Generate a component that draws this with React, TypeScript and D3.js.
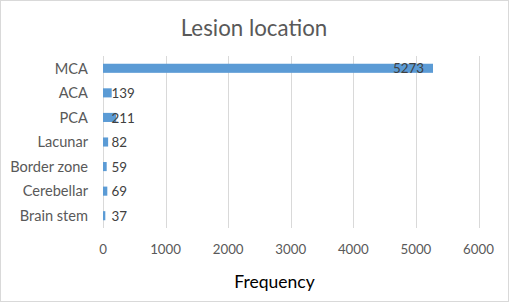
import { useEffect, useRef } from "react";
import * as d3 from "d3";

const categories = ["MCA", "ACA", "PCA", "Lacunar", "Border zone", "Cerebellar", "Brain stem"];
const frequencies = [5273, 139, 211, 82, 59, 69, 37];
const xTicks = [0, 1000, 2000, 3000, 4000, 5000, 6000];

export default function App() {
  const ref = useRef<SVGSVGElement>(null);

  useEffect(() => {
    const width = 510;
    const height = 303;
    const svg = d3.select(ref.current).attr("width", width).attr("height", height);
    svg.selectAll("*").remove();

    const font = "Lato, 'Open Sans', sans-serif";

    svg
      .append("rect")
      .attr("x", 0.5)
      .attr("y", 0.5)
      .attr("width", width - 2)
      .attr("height", height - 2)
      .attr("fill", "#fff")
      .attr("stroke", "#d9d9d9");

    const x = d3.scaleLinear().domain([0, 6000]).range([103, 478.5]);
    const y = d3.scaleBand().domain(categories).range([56, 228]).paddingInner(0.63).paddingOuter(0.315);

    // gridlines
    svg
      .append("g")
      .selectAll("line")
      .data(xTicks)
      .join("line")
      .attr("x1", (d) => Math.round(x(d)) + 0.5)
      .attr("x2", (d) => Math.round(x(d)) + 0.5)
      .attr("y1", 56)
      .attr("y2", 228)
      .attr("stroke", "#d9d9d9");

    // tick labels
    svg
      .append("g")
      .selectAll("text")
      .data(xTicks)
      .join("text")
      .attr("x", (d) => x(d))
      .attr("y", 254)
      .attr("text-anchor", "middle")
      .attr("fill", "#595959")
      .style("font", `13.3px ${font}`)
      .text((d) => d);

    // category labels
    svg
      .append("g")
      .selectAll("text")
      .data(categories)
      .join("text")
      .attr("x", 88)
      .attr("y", (d) => y(d)! + y.bandwidth() / 2)
      .attr("dy", "0.36em")
      .attr("text-anchor", "end")
      .attr("fill", "#595959")
      .style("font", `14.6px ${font}`)
      .text((d) => d);

    // bars
    svg
      .append("g")
      .selectAll("rect")
      .data(frequencies)
      .join("rect")
      .attr("x", x(0))
      .attr("y", (_, i) => y(categories[i])!)
      .attr("width", (d) => x(d) - x(0))
      .attr("height", y.bandwidth())
      .attr("fill", "#5b9bd5");

    // data labels
    svg
      .append("g")
      .selectAll("text")
      .data(frequencies)
      .join("text")
      .attr("x", (d) => (d > 1000 ? x(d) - 9 : x(0) + 8.5))
      .attr("y", (_, i) => y(categories[i])! + y.bandwidth() / 2)
      .attr("dy", "0.38em")
      .attr("text-anchor", (d) => (d > 1000 ? "end" : "start"))
      .attr("fill", "#404040")
      .style("font", `13.4px ${font}`)
      .text((d) => d);

    svg
      .append("text")
      .attr("x", 254)
      .attr("y", 36)
      .attr("text-anchor", "middle")
      .attr("fill", "#595959")
      .style("font", `22.3px ${font}`)
      .text("Lesion location");

    svg
      .append("text")
      .attr("x", 274.5)
      .attr("y", 288)
      .attr("text-anchor", "middle")
      .attr("fill", "#000")
      .style("font", `17.5px ${font}`)
      .text("Frequency");
  }, []);

  return <svg ref={ref} style={{ position: "absolute", left: 0, top: 0 }} />;
}
